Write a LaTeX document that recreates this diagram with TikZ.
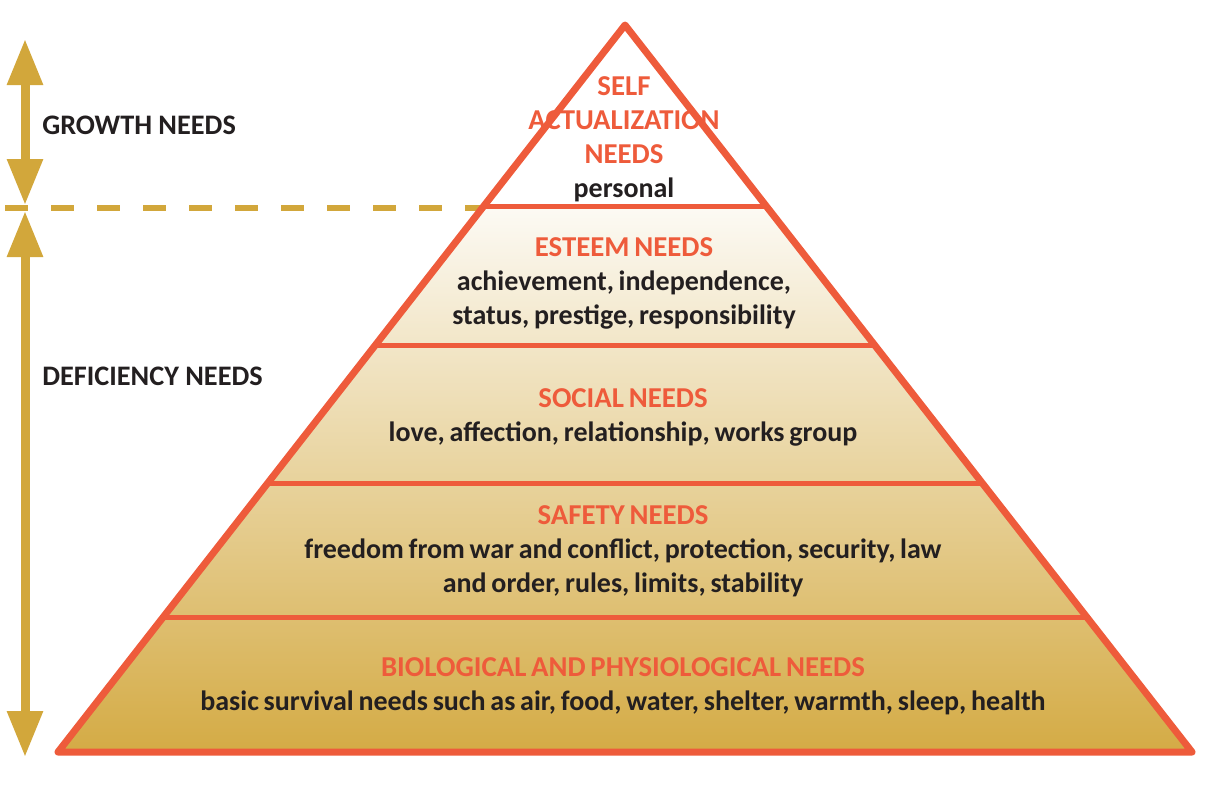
\documentclass[tikz,border=0pt]{standalone}
\usepackage{fontspec}
\setmainfont{Carlito}
\usetikzlibrary{arrows.meta,calc}
\definecolor{needline}{HTML}{EE5B3B}
\definecolor{needgold}{HTML}{D2A73B}
\definecolor{needtext}{HTML}{231F20}
\definecolor{pyrbase}{HTML}{D4AB45}
\definecolor{pyrtop}{HTML}{FCFAF4}
\newcommand\lvlhead[1]{{\fontsize{21.6}{25.5}\selectfont\textcolor{needline}{#1}}}
\newcommand\tightsp{\spaceskip=0.17em plus 0.05em minus 0.02em\relax}

\begin{document}
\begin{tikzpicture}[x=0.75pt,y=-0.75pt,
        edge/.style={needline,line width=5.25pt,line join=round},
        level/.style={needline,line width=3.75pt},
        needarrow/.style={needgold,line width=6.75pt,{Triangle[length=34.5pt,width=25.5pt]}-{Triangle[length=34.5pt,width=25.5pt]}},
        layer/.style={align=center,font=\fontsize{21}{25.5}\selectfont\bfseries\tightsp,text=needtext,inner sep=0pt},
        side/.style={anchor=west,font=\fontsize{21.2}{24}\selectfont\bfseries,text=needtext,inner sep=0pt}]

            \useasboundingbox (0, 0) rectangle (1218, 790);

            \coordinate (apex) at (625, 25);
            \coordinate (bl) at (58, 752);
            \coordinate (br) at (1192, 752);

            \shade[top color=pyrtop, bottom color=pyrbase] ($(apex)!0.2503!(bl)$) -- ($(apex)!0.2503!(br)$) -- (br) -- (bl) -- cycle;

            \draw[needgold, line width=4.5pt, dash pattern=on 17.25pt off 17.25pt] (5, 208) -- (482, 208);

            \foreach \t/\n in {0.2503/a, 0.4402/b, 0.6300/c, 0.8143/d}
                \draw[level] ($(apex)!\t!(bl)$) coordinate (l\n) -- ($(apex)!\t!(br)$) coordinate (r\n);

            \draw[edge] (apex) -- (bl) -- (br) -- cycle;

            \coordinate (gtop) at (25, 39);
            \coordinate (gbot) at (25, 205);
            \coordinate (dtop) at (25, 211);
            \coordinate (dbot) at (25, 757);
            \draw[needarrow] (gtop) -- (gbot);
            \draw[needarrow] (dtop) -- (dbot);

            \node[side] (growth) at (42, 125) {GROWTH NEEDS};
            \node[side] (deficiency) at (42, 376) {DEFICIENCY NEEDS};

            \node[layer] (self) at (624, 139) {\lvlhead{SELF}\\ \lvlhead{ACTUALIZATION}\\ \lvlhead{NEEDS}\\ personal};
            \node[layer] (esteem) at (624, 283) {\lvlhead{ESTEEM NEEDS}\\ achievement, independence,\\ status, prestige, responsibility};
            \node[layer] (social) at (623, 417) {\lvlhead{SOCIAL NEEDS}\\ love, affection, relationship, works group};
            \node[layer] (safety) at (623, 551) {\lvlhead{SAFETY NEEDS}\\ freedom from war and conflict, protection, security, law\\ and order, rules, limits, stability};
            \node[layer] (bio) at (623, 686) {\lvlhead{BIOLOGICAL AND PHYSIOLOGICAL NEEDS}\\ basic survival needs such as air, food, water, shelter, warmth, sleep, health};

        \end{tikzpicture}
\end{document}
